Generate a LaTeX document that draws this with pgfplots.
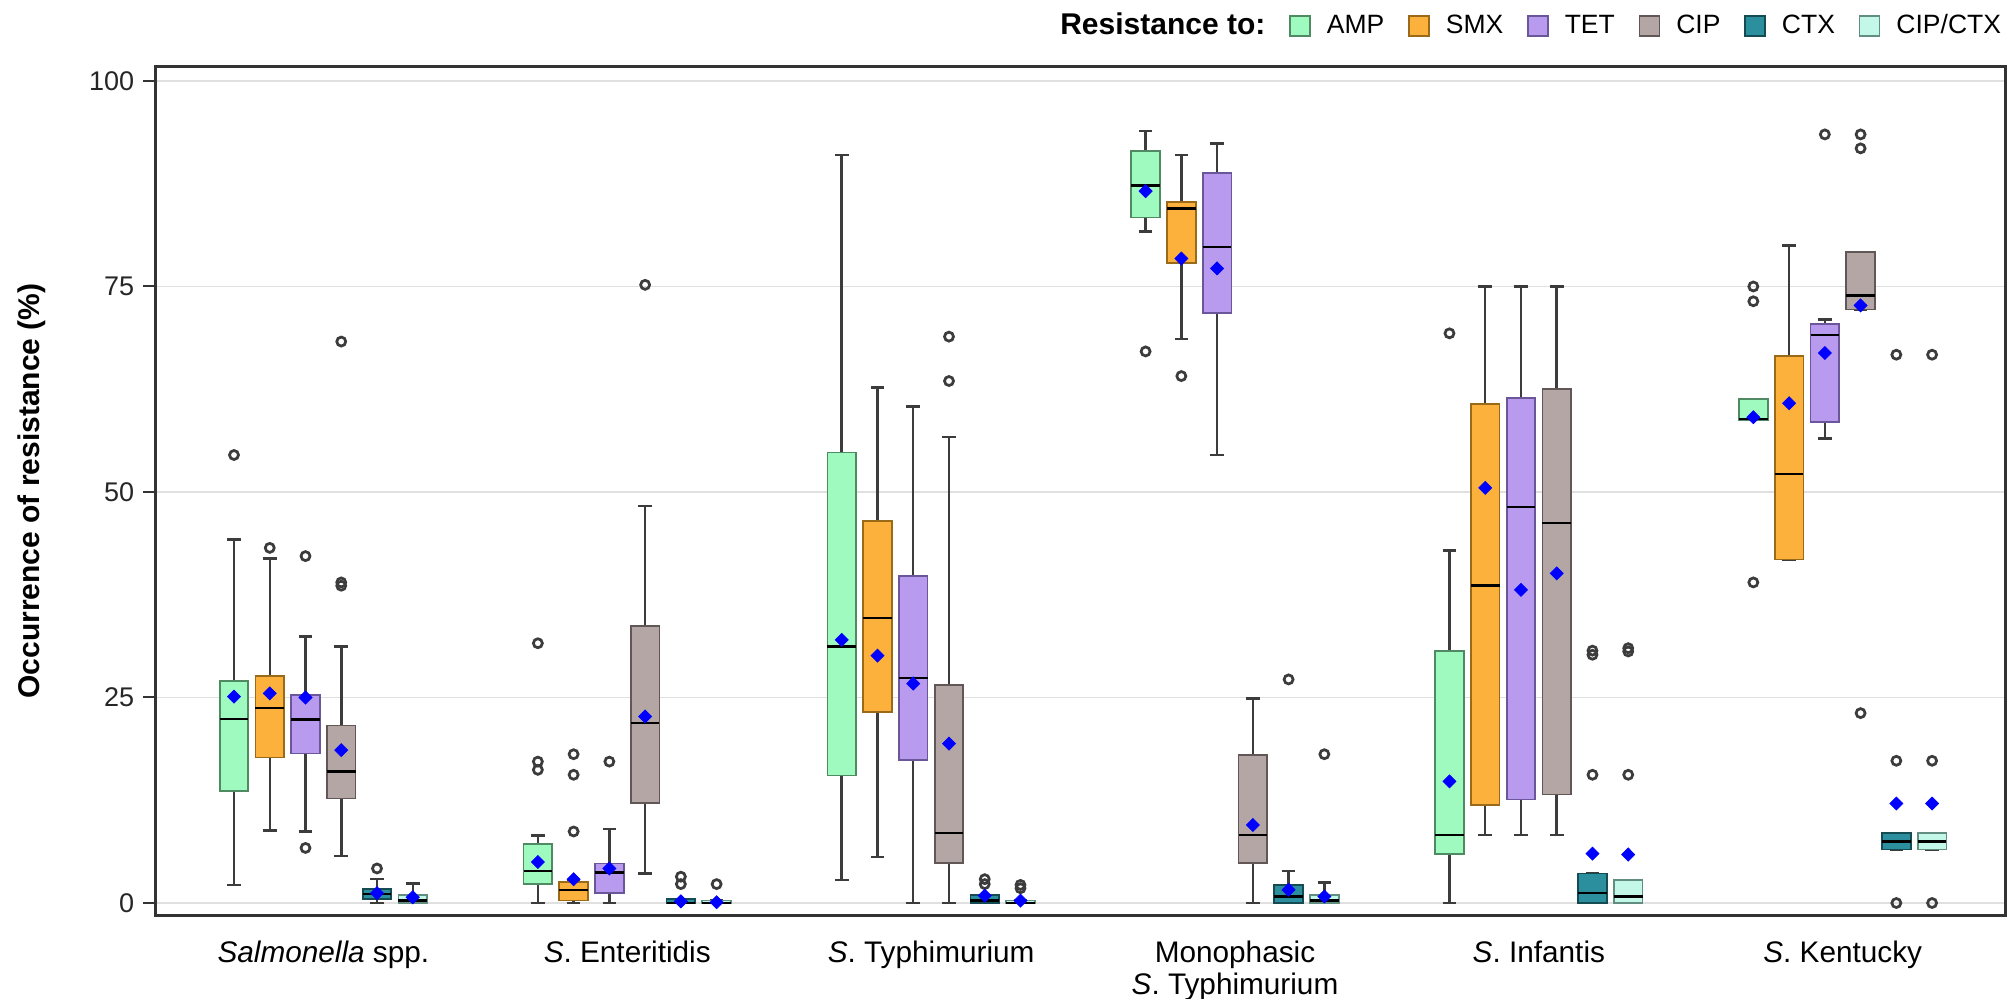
\documentclass[border=0pt]{standalone}
\usepackage{fontspec}
\setmainfont{Liberation Sans}
\usepackage{pgfplots}
\pgfplotsset{compat=1.18}
\usepgfplotslibrary{statistics}

\definecolor{ampF}{HTML}{9EFABE}\definecolor{ampD}{HTML}{4F8A62}
\definecolor{smxF}{HTML}{FBB13C}\definecolor{smxD}{HTML}{9A6A18}
\definecolor{tetF}{HTML}{B89AEF}\definecolor{tetD}{HTML}{6A5698}
\definecolor{cipF}{HTML}{B5A6A6}\definecolor{cipD}{HTML}{625757}
\definecolor{ctxF}{HTML}{2B8F9E}\definecolor{ctxD}{HTML}{154B53}
\definecolor{ccF}{HTML}{C3F7E7}\definecolor{ccD}{HTML}{628E82}
\definecolor{whisk}{HTML}{3C3C3C}

\pgfplotsset{
  rbox/.style 2 args={forget plot, draw=#2, line width=0.6pt,
    mark=o, mark size=1.8pt, mark options={draw=whisk, fill=none, line width=1.1pt},
    boxplot/every box/.style={fill=#1, draw=#2, line width=0.7pt}},
  amp/.style={rbox={ampF}{ampD}},
  smx/.style={rbox={smxF}{smxD}},
  tet/.style={rbox={tetF}{tetD}},
  cip/.style={rbox={cipF}{cipD}},
  ctx/.style={rbox={ctxF}{ctxD}},
  cc/.style={rbox={ccF}{ccD}},
  boxplot/draw direction=y,
  boxplot/box extend=0.8,
  boxplot/whisker extend=0.38,
  boxplot/every whisker/.style={draw=whisk, line width=1pt},
  boxplot/every median/.style={draw=black, line width=1pt},
}

% style, position, lower whisker, lower quartile, median, upper quartile, upper whisker, outliers
\newcommand\bx[8]{\addplot[#1, boxplot prepared={draw position=#2, lower whisker=#3,
  lower quartile=#4, median=#5, upper quartile=#6, upper whisker=#7}]
  table[row sep=\\, y index=0] {y\\ #8};}
\newcommand\bn[7]{\addplot[#1, boxplot prepared={draw position=#2, lower whisker=#3,
  lower quartile=#4, median=#5, upper quartile=#6, upper whisker=#7}] coordinates {};}

\begin{document}
\begin{tikzpicture}
\begin{axis}[
    name=ax,
    scale only axis,
    width=740pt, height=339.2pt,
    xmin=-2.21, xmax=49.54,
    ymin=-1.46, ymax=101.7,
    ytick={0,25,50,75,100},
    ymajorgrids,
    grid style={draw=black!12, line width=0.6pt},
    xtick={2.5,11,19.5,28,36.5,45},
    xticklabels={{\textit{Salmonella} spp.},{\textit{S}. Enteritidis},{\textit{S}. Typhimurium},
      {Monophasic\\\textit{S}. Typhimurium},{\textit{S}. Infantis},{\textit{S}. Kentucky}},
    x tick style={draw=none},
    xticklabel style={align=center, anchor=north, inner sep=0pt, yshift=-5.5pt,
      font=\fontsize{11.9}{12.8}\selectfont},
    tick align=outside,
    ytick pos=left,
    major tick length=4.8pt,
    y tick style={draw=black!80, line width=0.8pt},
    yticklabel style={font=\fontsize{10.8}{12}\selectfont, text=black!85},
    /pgf/number format/assume math mode=true,
    axis line style={draw=black!80, line width=1.2pt},
    ylabel={\textbf{Occurrence of resistance (\%)}},
    every axis y label/.style={at={([xshift=-49.2pt]axis description cs:0,0.5)},
      rotate=90, anchor=center, font=\fontsize{12}{14}\selectfont},
    legend columns=-1,
    legend image code/.code={\draw[#1, line width=0.6pt] (0pt,-4pt) rectangle (8pt,4pt);},
    legend style={at={(axis description cs:1,1)}, anchor=east, xshift=-1.6pt, yshift=16.4pt,
      draw=none, fill=none, inner sep=0pt, outer sep=0pt,
      nodes={inner sep=0pt, font=\fontsize{10.6}{12}\selectfont},
      /tikz/every odd column/.append style={column sep=6.4pt},
      /tikz/every even column/.append style={column sep=9.6pt}},
]
\addlegendimage{empty legend}
\addlegendentry{\fontsize{12}{14}\selectfont\textbf{Resistance to:}\hspace{9.6pt}}
\addlegendimage{fill=ampF, draw=ampD}\addlegendentry{AMP}
\addlegendimage{fill=smxF, draw=smxD}\addlegendentry{SMX}
\addlegendimage{fill=tetF, draw=tetD}\addlegendentry{TET}
\addlegendimage{fill=cipF, draw=cipD}\addlegendentry{CIP}
\addlegendimage{fill=ctxF, draw=ctxD}\addlegendentry{CTX}
\addlegendimage{fill=ccF, draw=ccD}\addlegendentry{CIP/CTX}

% Salmonella spp.
\bx{amp}{0}{2.2}{13.6}{22.4}{27.0}{44.2}{54.5\\}
\bx{smx}{1}{8.8}{17.7}{23.7}{27.6}{41.9}{43.2\\}
\bx{tet}{2}{8.7}{18.2}{22.3}{25.3}{32.4}{42.2\\ 6.7\\}
\bx{cip}{3}{5.7}{12.7}{16.0}{21.6}{31.2}{38.6\\ 39.0\\ 68.3\\}
\bx{ctx}{4}{0}{0.5}{1.1}{1.7}{2.9}{4.2\\}
\bn{cc}{5}{0}{0}{0.3}{1.0}{2.4}
% S. Enteritidis
\bx{amp}{8.5}{0}{2.3}{3.9}{7.2}{8.2}{16.2\\ 17.2\\ 31.6\\}
\bx{smx}{9.5}{0}{0.3}{1.6}{2.6}{2.6}{8.7\\ 15.6\\ 18.1\\}
\bx{tet}{10.5}{0}{1.2}{3.7}{4.8}{9.0}{17.2\\}
\bx{cip}{11.5}{3.6}{12.2}{21.9}{33.7}{48.3}{75.2\\}
\bx{ctx}{12.5}{0}{0}{0}{0.5}{0.5}{2.3\\ 3.2\\}
\bx{cc}{13.5}{0}{0}{0}{0.3}{0.3}{2.3\\}
% S. Typhimurium
\bn{amp}{17}{2.8}{15.5}{31.2}{54.8}{91.0}
\bn{smx}{18}{5.6}{23.2}{34.7}{46.5}{62.7}
\bn{tet}{19}{0}{17.4}{27.4}{39.8}{60.4}
\bx{cip}{20}{0}{4.9}{8.5}{26.5}{56.7}{63.5\\ 68.9\\}
\bx{ctx}{21}{0}{0}{0.3}{1.0}{1.0}{2.3\\ 2.9\\}
\bx{cc}{22}{0}{0}{0}{0.3}{0.3}{1.8\\ 2.2\\}
% Monophasic S. Typhimurium
\bx{amp}{25.5}{81.7}{83.4}{87.3}{91.5}{93.9}{67.1\\}
\bx{smx}{26.5}{68.6}{77.9}{84.5}{85.3}{91.0}{64.1\\}
\bn{tet}{27.5}{54.5}{71.8}{79.8}{88.8}{92.4}
\bn{cip}{28.5}{0}{4.9}{8.3}{18.0}{24.9}
\bx{ctx}{29.5}{0}{0}{0.8}{2.2}{3.9}{27.2\\}
\bx{cc}{30.5}{0}{0}{0.3}{1.0}{2.5}{18.1\\}
% S. Infantis
\bx{amp}{34}{0}{6.0}{8.3}{30.7}{42.9}{69.3\\}
\bn{smx}{35}{8.3}{11.9}{38.6}{60.7}{75.0}
\bn{tet}{36}{8.3}{12.6}{48.2}{61.4}{75.0}
\bn{cip}{37}{8.3}{13.2}{46.2}{62.5}{75.0}
\bx{ctx}{38}{0}{0}{1.2}{3.6}{3.6}{15.6\\ 30.2\\ 30.7\\}
\bx{cc}{39}{0}{0}{0.8}{2.8}{2.8}{15.6\\ 30.6\\ 31.0\\}
% S. Kentucky
\bx{amp}{42.5}{58.8}{58.8}{58.9}{61.3}{61.3}{39.0\\ 73.2\\ 75.0\\}
\bn{smx}{43.5}{41.8}{41.8}{52.2}{66.5}{80.0}
\bx{tet}{44.5}{56.5}{58.5}{69.1}{70.4}{71.0}{93.5\\}
\bx{cip}{45.5}{72.2}{72.2}{73.9}{79.2}{79.2}{23.1\\ 91.8\\ 93.5\\}
\bx{ctx}{46.5}{6.5}{6.5}{7.5}{8.5}{8.5}{0\\ 17.3\\ 66.7\\}
\bx{cc}{47.5}{6.5}{6.5}{7.5}{8.5}{8.5}{0\\ 17.3\\ 66.7\\}

% means
\addplot[forget plot, only marks, mark=diamond*, mark size=2.6pt,
  mark options={xscale=1.33, draw=blue, fill=blue, line width=0.3pt}] coordinates {
  (0,25.1) (1,25.5) (2,25.0) (3,18.6) (4,1.2) (5,0.7)
  (8.5,5.0) (9.5,2.9) (10.5,4.2) (11.5,22.7) (12.5,0.2) (13.5,0.1)
  (17,32.0) (18,30.1) (19,26.7) (20,19.4) (21,0.9) (22,0.3)
  (25.5,86.6) (26.5,78.4) (27.5,77.2) (28.5,9.5) (29.5,1.6) (30.5,0.8)
  (34,14.8) (35,50.5) (36,38.1) (37,40.1) (38,6.0) (39,5.9)
  (42.5,59.1) (43.5,60.8) (44.5,66.9) (45.5,72.7) (46.5,12.1) (47.5,12.1)
};
\end{axis}
\pgfresetboundingbox
\path ([xshift=-62pt, yshift=-33.2pt]ax.south west) rectangle ([xshift=2pt, yshift=26.8pt]ax.north east);
\end{tikzpicture}
\end{document}
